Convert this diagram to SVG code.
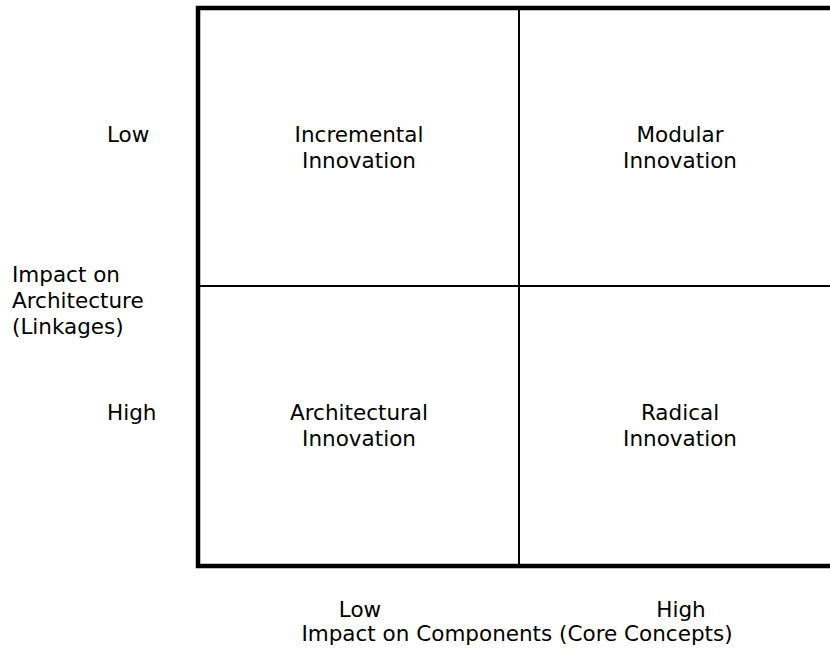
<svg xmlns="http://www.w3.org/2000/svg" width="830" height="650" viewBox="0 0 830 650">
<style>
text { font-family: "DejaVu Sans", Verdana, sans-serif; font-size: 21.5px; fill: #000; }
.c { text-anchor: middle; }
.frame { fill: none; stroke: #000; stroke-width: 4.5; }
.div { stroke: #000; stroke-width: 2; fill: none; }
</style>
<rect width="830" height="650" fill="#fff"/>
<g id="connectors">
<rect class="frame" x="198" y="8" width="660" height="558"/>
<line class="div" x1="519" y1="8" x2="519" y2="566"/>
<line class="div" x1="198" y1="286" x2="840" y2="286"/>
</g>
<g id="incremental">
<text class="c" x="359" y="142">Incremental</text>
<text class="c" x="359" y="168">Innovation</text>
</g>
<g id="modular">
<text class="c" x="680" y="142">Modular</text>
<text class="c" x="680" y="168">Innovation</text>
</g>
<g id="architectural">
<text class="c" x="359" y="420">Architectural</text>
<text class="c" x="359" y="446">Innovation</text>
</g>
<g id="radical">
<text class="c" x="680" y="420">Radical</text>
<text class="c" x="680" y="446">Innovation</text>
</g>
<g id="y-axis">
<text x="107" y="142">Low</text>
<text x="107" y="420">High</text>
<text x="12" y="282">Impact on</text>
<text x="12" y="308">Architecture</text>
<text x="12" y="334">(Linkages)</text>
</g>
<g id="x-axis">
<text class="c" x="360" y="617">Low</text>
<text class="c" x="681" y="617">High</text>
<text class="c" x="517" y="641">Impact on Components (Core Concepts)</text>
</g>
</svg>
